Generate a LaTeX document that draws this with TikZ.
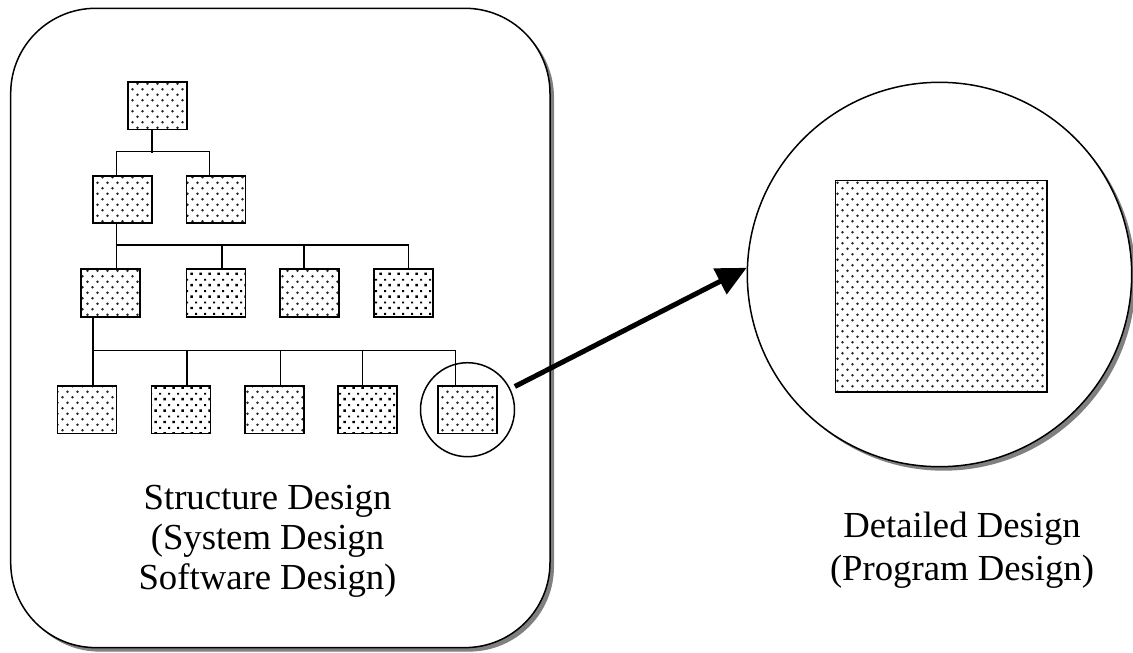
\documentclass[tikz,border=0pt]{standalone}
\usepackage{fontspec}
\setmainfont{Liberation Serif}
\usetikzlibrary{arrows.meta,patterns,shadows}

% soft grey dots on a staggered grid
\pgfdeclarepatternformonly{softdots}{\pgfqpoint{-1pt}{-1pt}}{\pgfqpoint{11pt}{12pt}}{\pgfqpoint{10pt}{11pt}}{%
  \pgfpathcircle{\pgfqpoint{2.5pt}{2.75pt}}{1.3pt}%
  \pgfpathcircle{\pgfqpoint{7.5pt}{8.25pt}}{1.3pt}%
  \pgfusepath{fill}%
}
% small black squares on a staggered grid
\pgfdeclarepatternformonly{squaredots}{\pgfqpoint{-1pt}{-1pt}}{\pgfqpoint{10pt}{12pt}}{\pgfqpoint{9pt}{11.4pt}}{%
  \pgfpathrectangle{\pgfqpoint{1.4pt}{1.8pt}}{\pgfqpoint{2.4pt}{2.4pt}}%
  \pgfpathrectangle{\pgfqpoint{6.1pt}{7.5pt}}{\pgfqpoint{1.9pt}{1.9pt}}%
  \pgfusepath{fill}%
}

\tikzset{
  module/.style={draw, line width=1.6pt, inner sep=0pt, minimum width=59pt, minimum height=47.5pt},
  greydot/.style={module, pattern=softdots, pattern color=black!85},
  blackdot/.style={module, pattern=squaredots, pattern color=black},
  wire/.style={line width=1.5pt},
  frame/.style={draw, line width=1.5pt, fill=white, rounded corners=85pt, inner sep=0pt,
    minimum width=539.3pt, minimum height=639.3pt,
    drop shadow={shadow xshift=4pt, shadow yshift=-4pt, fill=black!50, opacity=1}},
  lens/.style={circle, draw, line width=1.5pt, inner sep=0pt},
  caption/.style={align=center, inner sep=0pt, font=\fontsize{36.7}{40}\selectfont}
}

\begin{document}
\begin{tikzpicture}[x=1pt, y=-1pt]
\useasboundingbox (0,0) rectangle (1133,653);

% left panel
\node[frame] (panel) at (280.35,327.95) {};

% module hierarchy
\node[greydot] (T) at (157.5,105.8) {};
\node[greydot] (A1) at (122.3,199.5) {};
\node[greydot] (A2) at (216,199.5) {};
\node[greydot]  (B1) at (110.4,293) {};
\node[blackdot] (B2) at (216,293) {};
\node[greydot]  (B3) at (309.4,293) {};
\node[blackdot] (B4) at (403.2,293) {};
\node[greydot]  (C1) at (87,409.8) {};
\node[blackdot] (C2) at (180.8,409.8) {};
\node[greydot]  (C3) at (274.5,409.8) {};
\node[blackdot] (C4) at (367.6,409.8) {};
\node[greydot]  (C5) at (467.5,409.8) {};

% first level
\draw[wire] ([xshift=-5.5pt]T.south) -- ++(0,23);
\draw[wire] ([xshift=-5.6pt]A1.north) -- ++(0,-23.3) -| ([xshift=-6.3pt]A2.north);
% second level
\draw[wire] ([xshift=-5.6pt]A1.south) -- ([xshift=6.3pt]B1.north);
\draw[wire] ([xshift=6.3pt]B1.north) -- ++(0,-23.5) -| ([xshift=5.5pt]B4.north);
\draw[wire] ([xshift=6pt]B2.north) -- ++(0,-23.5);
\draw[wire] ([xshift=-5.5pt]B3.north) -- ++(0,-23.5);
% third level
\draw[wire] ([xshift=-17.4pt]B1.south) -- ([xshift=6pt]C1.north);
\draw[wire] ([xshift=6pt]C1.north) -- ++(0,-35) -| ([xshift=-11.8pt]C5.north);
\draw[wire] ([xshift=6pt]C2.north) -- ++(0,-35);
\draw[wire] ([xshift=6pt]C3.north) -- ++(0,-35);
\draw[wire] ([xshift=-5.2pt]C4.north) -- ++(0,-35);

% highlighted module
\node[lens, minimum size=94pt] (sc) at (467.5,409.7) {};

\node[caption] (structlabel) at (267.5,541) {Structure Design\\(System Design\\Software Design)};

% enlarged view
\node[lens, fill=white, minimum size=384.4pt,
  drop shadow={shadow xshift=4pt, shadow yshift=-4pt, fill=black!50, opacity=1}] (bc) at (939.5,274.5) {};
\node[greydot, minimum width=211.7pt, minimum height=211.3pt] (detail) at (941.2,286.3) {};

\node[caption, font=\fontsize{36.7}{43}\selectfont] (detaillabel) at (962,550) {Detailed Design\\(Program Design)};

% zoom arrow
\draw[line width=5pt, -{Triangle[length=30pt,width=28pt]}, shorten <=5pt] (sc.26) -- (bc.178.5);
\end{tikzpicture}
\end{document}
